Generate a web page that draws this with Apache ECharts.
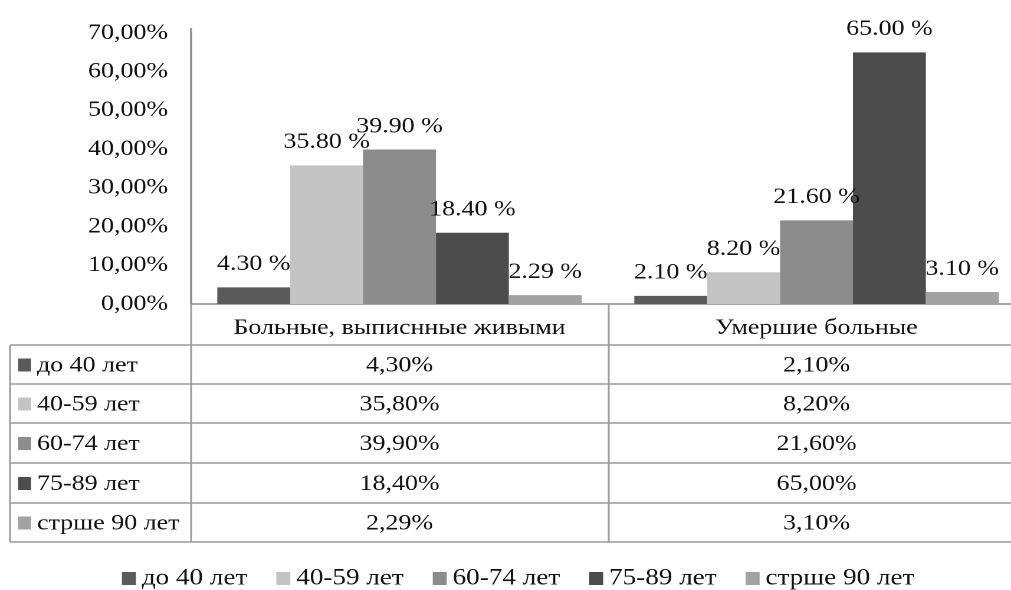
<!DOCTYPE html>
<html>
<head>
<meta charset="utf-8">
<script src="https://cdn.jsdelivr.net/npm/echarts@6/dist/echarts.min.js"></script>
<style>
  html, body { margin: 0; padding: 0; background: #fff; overflow: hidden; }
  /* the source picture has horizontally stretched text, so the chart is drawn narrower and stretched */
  #chart { width: 857px; height: 590px; transform: scaleX(1.1797); transform-origin: 0 0; }
</style>
</head>
<body>
<div id="chart"></div>
<script>
const FONT = "'Liberation Serif', 'Times New Roman', serif";
const SX = 1.1797;
const sx = (x) => x / SX;

const categories = ['Больные, выписнные живыми', 'Умершие больные'];
const groups = ['до 40 лет', '40-59 лет', '60-74 лет', '75-89 лет', 'стрше 90 лет'];
const colors = ['#5a5a5a', '#c4c4c4', '#8c8c8c', '#4c4c4c', '#a2a2a2'];

// values in %, by age group
const under40 = [4.30, 2.10];
const age40to59 = [35.80, 8.20];
const age60to74 = [39.90, 21.60];
const age75to89 = [18.40, 65.00];
const over90 = [2.29, 3.10];
const values = [under40, age40to59, age60to74, age75to89, over90];

const yTicks = [0, 10, 20, 30, 40, 50, 60, 70];

const comma = (v) => v.toFixed(2).replace('.', ',') + '%';

let chart = echarts.init(document.getElementById('chart'), null, { devicePixelRatio: 2 });

let series = groups.map((name, i) => ({
  name: name,
  type: 'bar',
  data: values[i],
  barGap: 0,
  barCategoryGap: '12.6%',
  itemStyle: { color: colors[i] },
  label: {
    show: true,
    position: 'top',
    distance: 12,
    fontFamily: FONT,
    fontSize: 22,
    color: '#111',
    formatter: (p) => p.value.toFixed(2) + ' %'
  }
}));

let option = {
  animation: false,
  backgroundColor: '#fff',
  // the plot runs a little past the right edge of the picture
  grid: { left: sx(191), width: sx(834), top: 33, bottom: 286, containLabel: false, outerBoundsMode: 'none' },
  xAxis: {
    type: 'category',
    data: categories,
    axisLine: { lineStyle: { color: '#8a8a8a', width: 1.5 } },
    axisTick: { show: true, interval: 0, length: 238, lineStyle: { color: '#9a9a9a', width: 1.5 } },
    axisLabel: { interval: 0, fontFamily: FONT, fontSize: 22, color: '#111', margin: 13 }
  },
  yAxis: {
    type: 'value',
    min: yTicks[0],
    max: yTicks[yTicks.length - 1],
    interval: 10,
    axisLine: { show: true, lineStyle: { color: '#8a8a8a', width: 1.5 } },
    axisTick: { show: false },
    splitLine: { show: false },
    axisLabel: { fontFamily: FONT, fontSize: 22, color: '#111', margin: sx(23), formatter: (v) => comma(v) }
  },
  legend: {
    top: 562,
    left: sx(116),
    itemWidth: sx(14),
    itemHeight: 13,
    itemGap: sx(29),
    icon: 'rect',
    textStyle: { fontFamily: FONT, fontSize: 23, color: '#111' },
    data: groups
  },
  series: series
};

chart.setOption(option);

// data table under the axis
let rowLines = [345, 384, 423, 463, 503, 542];
let lineStyle = { stroke: '#9a9a9a', lineWidth: 1.5 };
let graphics = [];
rowLines.forEach((y) => {
  graphics.push({ type: 'line', shape: { x1: sx(10), y1: y, x2: sx(1011), y2: y }, style: lineStyle });
});
graphics.push({ type: 'line', shape: { x1: sx(10), y1: 345, x2: sx(10), y2: 542 }, style: lineStyle });
graphics.push({ type: 'line', shape: { x1: sx(191), y1: 28, x2: sx(191), y2: 304 }, style: { stroke: '#8a8a8a', lineWidth: 1.5 } });

let colX = categories.map((c) => chart.convertToPixel({ xAxisIndex: 0 }, c));
groups.forEach((g, i) => {
  let yc = (rowLines[i] + rowLines[i + 1]) / 2 + 1;
  graphics.push({ type: 'rect', shape: { x: sx(18), y: yc - 7, width: sx(13), height: 13 }, style: { fill: colors[i] } });
  graphics.push({ type: 'text', x: sx(37), y: yc, style: { text: g, font: '22px ' + FONT, fill: '#111', verticalAlign: 'middle' } });
  values[i].forEach((v, j) => {
    graphics.push({ type: 'text', x: colX[j], y: yc, style: { text: comma(v), font: '22px ' + FONT, fill: '#111', align: 'center', verticalAlign: 'middle' } });
  });
});

chart.setOption({ graphic: graphics });
</script>
</body>
</html>
